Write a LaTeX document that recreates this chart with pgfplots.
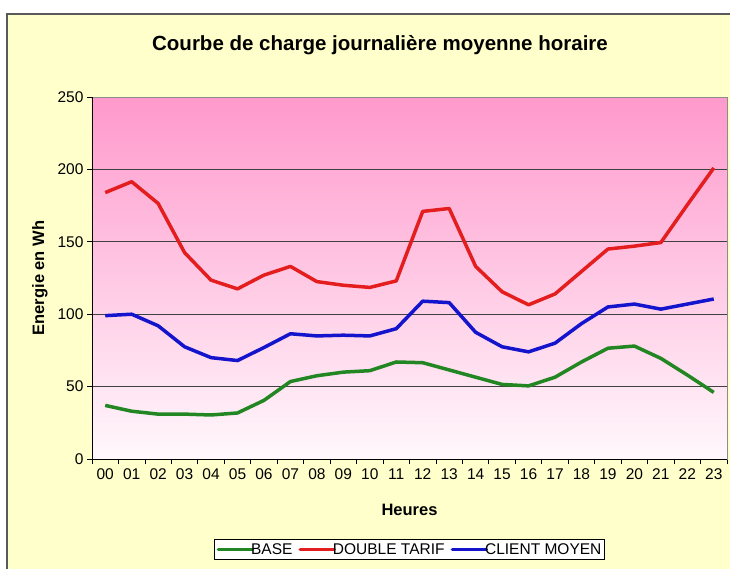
\documentclass[border=0pt]{standalone}
\usepackage{fontspec}
\setmainfont{Liberation Sans}
\usepackage{pgfplots}
\usepackage{pgfplotstable}
\pgfplotsset{compat=1.18}

\definecolor{cream}{RGB}{255,255,204}
\definecolor{rose}{RGB}{255,153,204}
\definecolor{rosewhite}{RGB}{255,248,252}
\definecolor{cgreen}{RGB}{34,134,34}
\definecolor{cred}{RGB}{228,30,30}
\definecolor{cblue}{RGB}{20,20,205}

% h = heure, base / dt (double tarif) / cm (client moyen), en Wh
\pgfplotstableread{
h  base  dt     cm
0  37    184    99
1  33    191.5  100
2  31    176.5  92
3  31    142.5  77.5
4  30.4  123.5  70
5  31.8  117.5  68
6  40.5  127    77
7  53.5  133    86.5
8  57.5  122.5  85
9  60    120    85.5
10 61    118.5  85
11 67    123    90
12 66.5  171    109
13 61.5  173    108
14 56.5  133    87.5
15 51.5  115.5  77.5
16 50.5  106.5  74
17 56.5  114    80
18 67    129.5  93.5
19 76.5  145    105
20 78    147    107
21 69.5  149.5  103.5
22 58    175.5  107
23 46    201    110.5
}\courbe

\begin{document}
\begin{tikzpicture}
\useasboundingbox (-92pt,-109pt) rectangle (638pt,459pt);
\clip (-92pt,-109pt) rectangle (638pt,459pt);
\filldraw[fill=cream, draw=black!65, line width=1.2pt] (-85pt,-140pt) rectangle (670pt,445pt);
\node[font=\bfseries\fontsize{20.5}{24}\selectfont] at (288pt,414pt) {Courbe de charge journalière moyenne horaire};
\begin{axis}[
  at={(0,0)}, anchor=south west,
  width=635pt, height=362pt, scale only axis,
  xmin=-0.5, xmax=23.5, ymin=0, ymax=250,
  ytick={0,50,...,250},
  xtick={0,...,23},
  xticklabels={00,01,02,03,04,05,06,07,08,09,10,11,12,13,14,15,16,17,18,19,20,21,22,23},
  minor xtick={-0.5,0.5,...,23.5},
  major x tick style={draw=none},
  xtick pos=bottom, ytick pos=left,
  tick align=outside,
  major tick length=5pt, minor tick length=5pt,
  tick style={black, line width=0.8pt},
  axis line style={black!45, line width=0.6pt},
  ymajorgrids,
  grid style={black!75, line width=0.7pt},
  axis background/.style={top color=rose, bottom color=rosewhite},
  ticklabel style={font=\fontsize{15.5}{18}\selectfont},
  /pgf/number format/assume math mode=true,
  xticklabel style={yshift=-1pt},
  xlabel={Heures},
  ylabel={Energie en Wh},
  label style={font=\bfseries\fontsize{16.5}{19}\selectfont},
  xlabel style={at={(axis description cs:0.5,-0.141)}, anchor=center},
  ylabel style={at={(axis description cs:-0.082,0.5)}, anchor=center},
  legend style={at={(axis description cs:0.5,-0.221)}, anchor=north,
    legend columns=3, draw=black, fill=white, line width=0.8pt,
    font=\fontsize{15.5}{18}\selectfont, inner sep=2pt,
    nodes={inner xsep=1pt},
    /tikz/every odd column/.append style={column sep=0pt},
    /tikz/every even column/.append style={column sep=5pt}},
  legend image code/.code={%
    \draw[#1, line width=3.5pt, line cap=round] (1pt,0pt) -- (31pt,0pt);
    \draw[#1, line width=3.5pt, line cap=round, overlay] (31pt,0pt) -- (35pt,0pt);},
  every axis plot/.append style={line width=3.5pt, line join=round, no markers},
]
\addplot[cgreen] table[x=h, y=base] {\courbe};
\addplot[cred]   table[x=h, y=dt]   {\courbe};
\addplot[cblue]  table[x=h, y=cm]   {\courbe};
\legend{BASE,DOUBLE TARIF,CLIENT MOYEN}
\draw[black, line width=0.8pt] (rel axis cs:0,1) -- (rel axis cs:0,0) -- (rel axis cs:1,0);
\end{axis}
\end{tikzpicture}
\end{document}
